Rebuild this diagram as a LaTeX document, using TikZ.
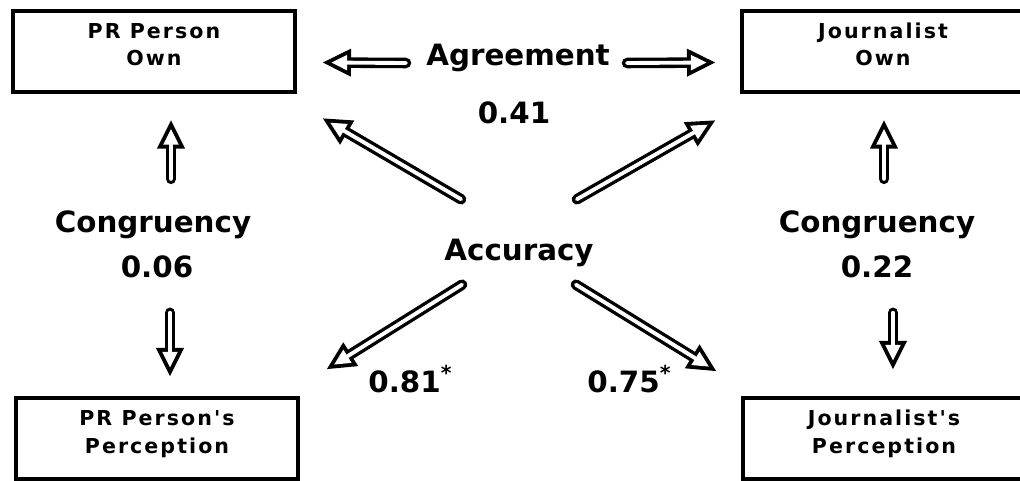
\documentclass[tikz,border=0pt]{standalone}
\usepackage{fontspec}
\setmainfont{DejaVu Sans}
\newfontfamily\boxfont{DejaVu Sans}[LetterSpace=10]
\usetikzlibrary{arrows.meta, positioning, calc}
\tikzset{
    box/.style={
        rectangle, draw=black, line width=2.2pt,
        minimum width=5.64cm, inner xsep=0pt, inner ysep=0pt,
        text height=31.3pt, text depth=14.8pt,
        font=\boxfont\bfseries\fontsize{11.7}{15.9}\selectfont, align=center
    },
    lbl/.style={
        font=\bfseries\fontsize{16.7}{20}\selectfont,
        inner sep=0pt, anchor=base
    },
    hollow/.style={
        line width=6pt, line cap=round,
        -{Triangle[length=16pt, width=16pt, line width=0pt]},
        postaction={draw=white, line width=2.2pt,
            -{Triangle[length=8.9pt, width=8.9pt, line width=0pt]},
            shorten >=4.9pt}
    }
}
\begin{document}
\begin{tikzpicture}[x=0.02cm, y=-0.02cm]
    \useasboundingbox (0,0) rectangle (1020,480);

    % Boxes in the corners
    \node[box] (prown) at (154,51.5) {PR Person\\Own};
    \node[box] (jown) at (883,51.5) {Journalist\\Own};
    \node[box] (prper) at (157,438.5) {PR Person's\\Perception};
    \node[box] (jper) at (884,438.5) {Journalist's\\Perception};

    % Labels and values
    \node[lbl] (agree) at (518,65) {Agreement};
    \node[lbl] (v41) at (514,123) {0.41};
    \node[lbl] (acc) at (519,260) {Accuracy};
    \node[lbl] (cgl) at (153,232) {Congruency};
    \node[lbl] (v06) at (157,277) {0.06};
    \node[lbl] (cgr) at (877,232) {Congruency};
    \node[lbl] (v22) at (877,277) {0.22};
    \node[lbl, anchor=base west] (v81) at (368,392) {0.81\textsuperscript{*}};
    \node[lbl, anchor=base west] (v75) at (587,392) {0.75\textsuperscript{*}};

    % Agreement
    \draw[hollow] ($(agree.base west)+(-20,-2)$) -- ($(prown.east)+(26,11)$);
    \draw[hollow] ($(agree.base east)+(17,-2)$) -- ($(jown.west)+(-25,11)$);

    % Accuracy
    \draw[hollow] ($(acc.north west)+(17,-39)$) -- ($(prown.south east)+(26,24.5)$);
    \draw[hollow] ($(acc.north east)+(-17,-39)$) -- ($(jown.south west)+(-25,26.5)$);
    \draw[hollow] ($(acc.south west)+(18,18)$) -- ($(prper.north east)+(27,-27)$);
    \draw[hollow] ($(acc.south east)+(-18,18)$) -- ($(jper.north west)+(-25,-25)$);

    % Congruency
    \draw[hollow] ($(cgl.north)+(18,-31)$) -- ($(prown.south)+(17,26.5)$);
    \draw[hollow] ($(v06.south)+(13,35)$) -- ($(prper.north)+(13,-20)$);
    \draw[hollow] ($(cgr.north)+(7,-31)$) -- ($(jown.south)+(1,26.5)$);
    \draw[hollow] ($(v22.south)+(16,35)$) -- ($(jper.north)+(9,-27)$);
\end{tikzpicture}
\end{document}
